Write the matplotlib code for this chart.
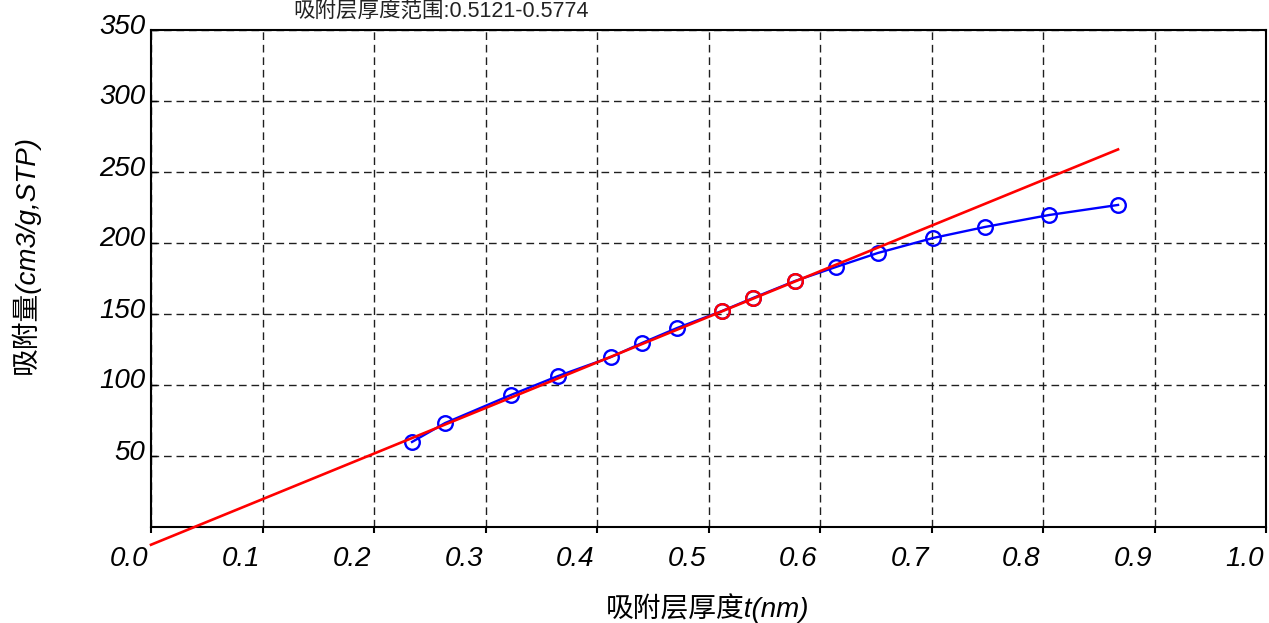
import numpy as np
import matplotlib
matplotlib.use("Agg")
import matplotlib.pyplot as plt
from matplotlib.transforms import ScaledTranslation

# Adsorbed layer thickness t (nm) and adsorbed amount (cm3/g, STP)
t_all = [0.2341, 0.2637, 0.3229, 0.3650, 0.4126, 0.4404, 0.4717,
         0.5121, 0.5400, 0.5774,
         0.6143, 0.6520, 0.7013, 0.7480, 0.8054, 0.8673]
v_all = [59.9, 73.2, 93.0, 106.3, 119.7, 129.6, 140.1,
         152.1, 161.3, 173.2,
         183.1, 193.0, 203.5, 211.3, 219.7, 226.8]

# Points used for the linear t-plot fit
t_fit = [0.5121, 0.5400, 0.5774]
v_fit = [152.1, 161.3, 173.2]

# Fitted straight line: V = slope * t + intercept
fit_slope = 321.0
fit_intercept = -12.5
fit_range = [0.0, 0.8673]

x_ticks = [0.0, 0.1, 0.2, 0.3, 0.4, 0.5, 0.6, 0.7, 0.8, 0.9, 1.0]
y_ticks = [50, 100, 150, 200, 250, 300, 350]

title_text = "吸附层厚度范围:0.5121-0.5774"
x_label = "吸附层厚度t(nm)"
y_label = "吸附量(cm3/g,STP)"

fam = ["Liberation Sans", "Noto Sans CJK SC", "DejaVu Sans"]
plt.rcParams["font.family"] = fam

W, H = 1269, 623
fig = plt.figure(figsize=(W / 100, H / 100), dpi=100)
ax = fig.add_axes([151 / W, 1 - 527 / H, (1266 - 151) / W, (527 - 30) / H])

ax.set_xlim(0.0, 1.0)
ax.set_ylim(0, 350)

# grid
ax.set_axisbelow(True)
ax.grid(True, color="0.12", linewidth=1.0, linestyle=(0, (5.5, 3.5)))

# measured curve
ax.plot(t_all, v_all, color="#0000ff", linewidth=1.7, marker="o",
        markersize=10.5, markerfacecolor="none", markeredgecolor="#0000ff",
        markeredgewidth=1.7, zorder=3)

# fitted line
fx = np.array(fit_range)
ax.plot(fx, fit_slope * fx + fit_intercept, color="#ff0000",
        linewidth=1.9, clip_on=False, zorder=4)

# points used in the fit
ax.plot(t_fit, v_fit, linestyle="none", marker="o", markersize=10.5,
        markerfacecolor="none", markeredgecolor="#ff0000",
        markeredgewidth=1.7, zorder=5)

for sp in ax.spines.values():
    sp.set_linewidth(1.5)

ax.set_xticks(x_ticks)
ax.set_xticklabels([f"{v:.1f}" for v in x_ticks])
ax.set_yticks(y_ticks)
ax.set_yticklabels([str(v) for v in y_ticks])

ax.tick_params(axis="x", direction="out", length=4.5, width=1.5, pad=9,
               labelsize=20)
ax.tick_params(axis="y", direction="in", length=4, width=1.0, pad=4,
               labelsize=20)

for lab in ax.get_xticklabels():
    lab.set_fontstyle("italic")
    lab.set_horizontalalignment("right")
    lab.set_transform(lab.get_transform() +
                      ScaledTranslation(-0.025, 0, fig.dpi_scale_trans))
for lab in ax.get_yticklabels():
    lab.set_fontstyle("italic")
    lab.set_transform(lab.get_transform() +
                      ScaledTranslation(0, 0.065, fig.dpi_scale_trans))

xl = ax.set_xlabel(x_label, fontsize=20, fontstyle="italic")
xl.set_va("center")
ax.xaxis.set_label_coords(0.4996, -0.163)

yl = ax.set_ylabel(y_label, fontsize=20, fontstyle="italic")
yl.set_va("center")
ax.yaxis.set_label_coords(-0.113, 0.548)

fig.text(293 / W, 1 - 17 / H, title_text, fontsize=15.5, color="#222222",
         ha="left", va="baseline")

fig.savefig("out.png", dpi=100)
